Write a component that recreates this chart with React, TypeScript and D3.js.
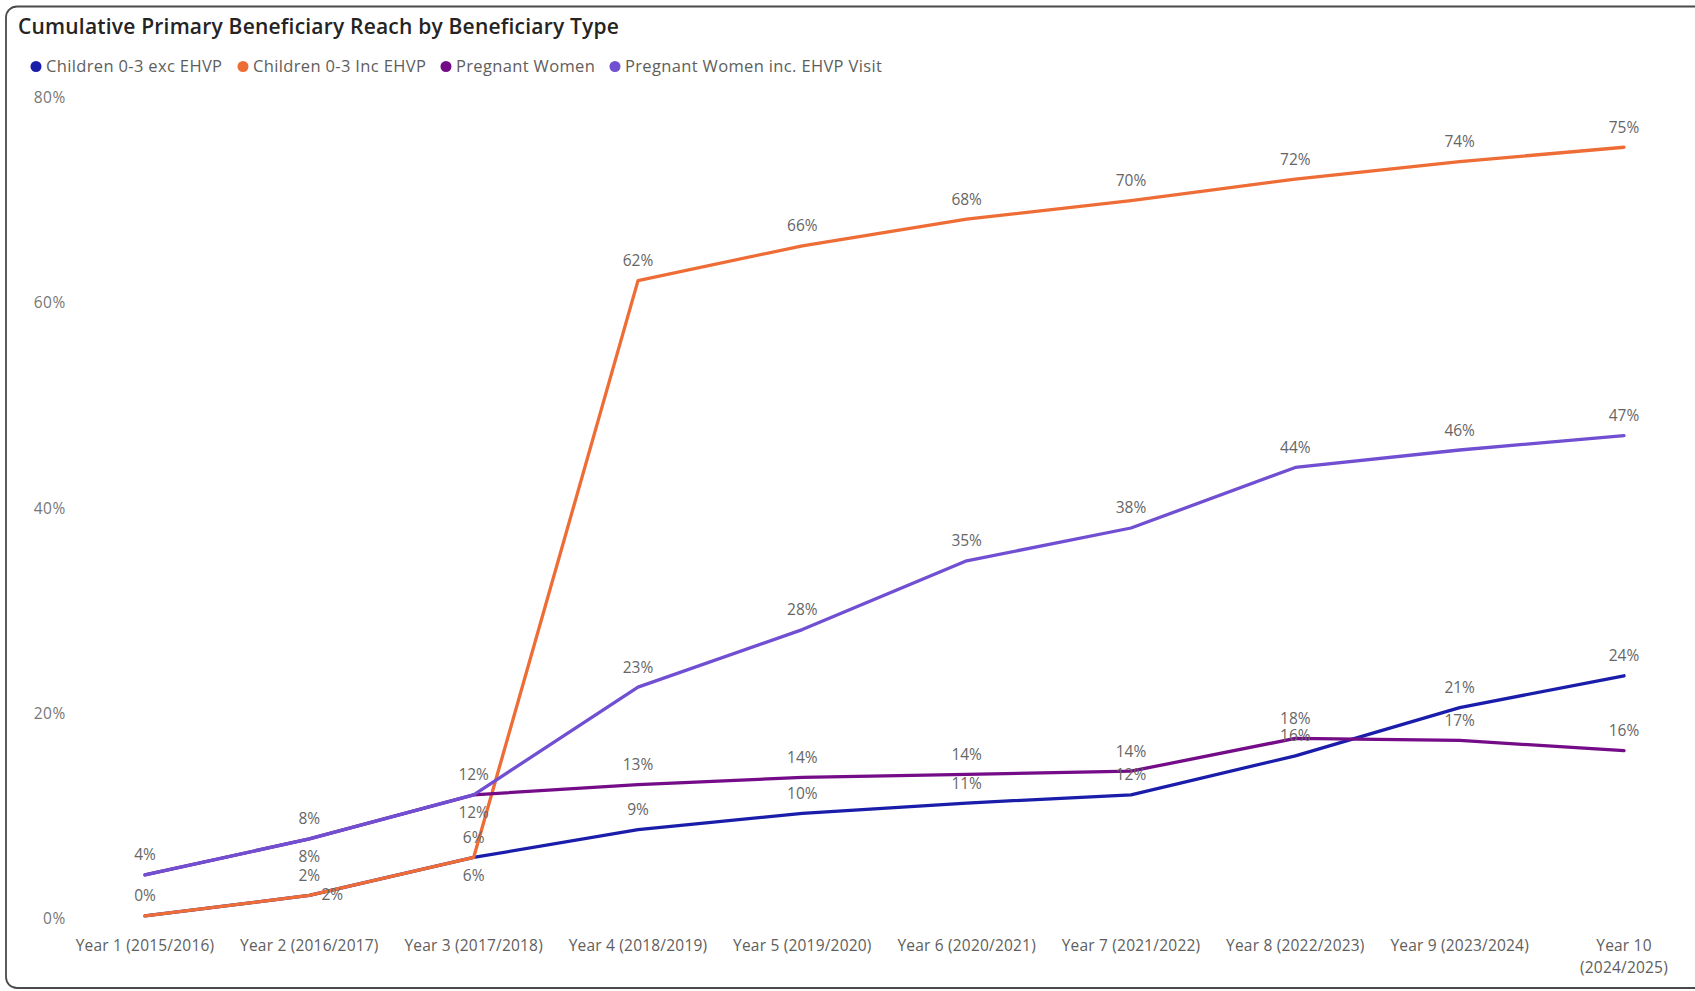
import React from "react";
import * as d3 from "d3";

const categories = [
  "Year 1 (2015/2016)",
  "Year 2 (2016/2017)",
  "Year 3 (2017/2018)",
  "Year 4 (2018/2019)",
  "Year 5 (2019/2020)",
  "Year 6 (2020/2021)",
  "Year 7 (2021/2022)",
  "Year 8 (2022/2023)",
  "Year 9 (2023/2024)",
  "Year 10 (2024/2025)",
];

const seriesNames = [
  "Children 0-3 exc EHVP",
  "Children 0-3 Inc EHVP",
  "Pregnant Women",
  "Pregnant Women inc. EHVP Visit",
];

const childrenExc = [0.3, 2.3, 6.0, 8.7, 10.3, 11.3, 12.1, 15.9, 20.6, 23.7];
const childrenInc = [0.3, 2.3, 6.0, 62.2, 65.6, 68.2, 70.0, 72.1, 73.8, 75.2];
const pregnantWomen = [4.3, 7.8, 12.1, 13.1, 13.8, 14.1, 14.4, 17.6, 17.4, 16.4];
const pregnantWomenVisit = [4.3, 7.8, 12.1, 22.6, 28.2, 34.9, 38.1, 44.0, 45.7, 47.1];

const yTicks = [0, 20, 40, 60, 80];

const colors = ["#1A1DAA", "#EE6C35", "#740C88", "#704FD2"];

const W = 1695;
const H = 991;
const FONT = "'Segoe UI', 'Open Sans', sans-serif";

export default function App() {
  const values = [childrenExc, childrenInc, pregnantWomen, pregnantWomenVisit];
  const x = d3
    .scalePoint<string>()
    .domain(categories)
    .range([145, 1624]);
  const y = d3.scaleLinear().domain([0, 80]).range([919, 98]);

  const line = d3
    .line<number>()
    .x((_, i) => x(categories[i]) as number)
    .y((d) => y(d))
    .curve(d3.curveLinear);

  // data labels with simple collision avoidance (above, below, then right)
  type Box = { x0: number; x1: number; y0: number; y1: number };
  const placed: Box[] = [];
  const labels: { x: number; y: number; text: string; key: string }[] = [];
  const lh = 15;
  const bottom = y(0) + 1;
  const top = y(80) - 10;
  const inBounds = (b: Box) => !(b.y1 > bottom || b.y0 < top);
  const collides = (b: Box) =>
    placed.some((p) => !(b.x1 < p.x0 || b.x0 > p.x1 || b.y1 < p.y0 || b.y0 > p.y1));
  values.forEach((vals, s) => {
    categories.forEach((c, i) => {
      const v = vals[i];
      const px = x(c) as number;
      const py = y(v);
      const text = `${Math.round(v)}%`;
      const w = text.length * 9;
      const mk = (cx: number, cy: number): Box => ({
        x0: cx - w / 2,
        x1: cx + w / 2,
        y0: cy - lh / 2,
        y1: cy + lh / 2,
      });
      const above = mk(px, py - 19.5);
      if (inBounds(above) && !collides(above)) {
        placed.push(above);
        labels.push({ x: px, y: py - 19.5, text, key: `${s}-${i}` });
        return;
      }
      const below = mk(px, py + 18.5);
      if (inBounds(below)) {
        if (!collides(below)) {
          placed.push(below);
          labels.push({ x: px, y: py + 18.5, text, key: `${s}-${i}` });
        }
        return;
      }
      const right = mk(px + 23, py);
      if (inBounds(right) && !collides(right)) {
        placed.push(right);
        labels.push({ x: px + 23, y: py, text, key: `${s}-${i}` });
      }
    });
  });

  const legendX = [36, 243, 446, 615];

  return (
    <svg
      width={W}
      height={H}
      style={{ position: "absolute", left: 0, top: 0, background: "#fff" }}
      fontFamily={FONT}
    >
      <rect x={0} y={0} width={W} height={H} fill="#fff" />
      <rect
        x={6}
        y={6.5}
        width={W + 20}
        height={981.5}
        rx={11}
        fill="none"
        stroke="#4a4a4a"
        strokeWidth={1.8}
      />
      <text x={18} y={34} fontSize={21} fontWeight={600} fill="#252423" letterSpacing={0.2}>
        Cumulative Primary Beneficiary Reach by Beneficiary Type
      </text>
      {seriesNames.map((n, i) => (
        <g key={n}>
          <circle cx={legendX[i]} cy={66.5} r={5.5} fill={colors[i]} />
          <text
            x={legendX[i] + 10}
            y={72}
            fontSize={16.5}
            letterSpacing={0.35}
            fill="#605E5C"
          >
            {n}
          </text>
        </g>
      ))}
      {yTicks.map((t) => (
        <text
          key={t}
          x={66}
          y={y(t) + 5}
          textAnchor="end"
          fontSize={15.5}
          letterSpacing={0.6}
          fill="#777"
        >
          {`${t}%`}
        </text>
      ))}
      {categories.map((c) => {
        const parts =
          c.length > 18
            ? [c.slice(0, c.indexOf(" (")), c.slice(c.indexOf(" (") + 1)]
            : [c];
        return (
          <text
            key={c}
            x={x(c) as number}
            y={951}
            textAnchor="middle"
            fontSize={15.5}
            letterSpacing={0.2}
            fill="#605E5C"
          >
            {parts.map((p, k) => (
              <tspan key={k} x={x(c) as number} dy={k === 0 ? 0 : 22}>
                {p}
              </tspan>
            ))}
          </text>
        );
      })}
      {values.map((vals, s) => (
        <path
          key={s}
          d={line(vals) || ""}
          fill="none"
          stroke={colors[s]}
          strokeWidth={3.3}
          strokeLinejoin="round"
          strokeLinecap="round"
        />
      ))}
      {labels.map((l) => (
        <text
          key={l.key}
          x={l.x}
          y={l.y + 5}
          textAnchor="middle"
          fontSize={15.5}
          fill="#666"
        >
          {l.text}
        </text>
      ))}
    </svg>
  );
}
